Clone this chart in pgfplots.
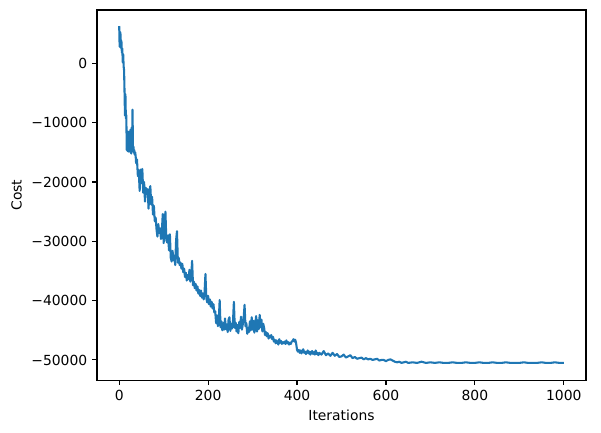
\documentclass[border=0pt]{standalone}
\usepackage{fontspec}
\setmainfont{DejaVu Sans}
\usepackage{pgfplots}
\pgfplotsset{compat=1.18}
\definecolor{mplblue}{HTML}{1F77B4}

\begin{document}
\begin{tikzpicture}
\begin{axis}[
    scale only axis,
    width=352pt, height=266.4pt,
    xmin=-50, xmax=1050,
    ymin=-53400, ymax=9000,
    scaled x ticks=false, scaled y ticks=false,
    axis line style={line width=0.8pt},
    tick align=outside,
    xtick pos=bottom, ytick pos=left,
    major tick length=3.5pt,
    tick style={line width=0.8pt, black},
    xtick={0,200,400,600,800,1000},
    xticklabels={0,200,400,600,800,1000},
    ytick={-50000,-40000,-30000,-20000,-10000,0},
    yticklabels={−50000,−40000,−30000,−20000,−10000,0},
    tick label style={font=\fontsize{10}{12}\selectfont},
    label style={font=\fontsize{10}{12}\selectfont},
    xlabel={Iterations},
    ylabel={Cost},
]
\addplot[color=mplblue, line width=1.5pt, line join=round] coordinates {
(0,6300) (1,2800) (2,5300) (3,4900) (4,2600) (5,3800) (6,1800) (7,2500)
(8,200) (9,1500) (10,-500) (11,-1200) (12,-4800) (13,-8800) (14,-5200)
(15,-9300) (16,-8700) (17,-14600) (18,-12000) (19,-14800) (20,-11500)
(21,-14300) (22,-14900) (23,-13200) (24,-14700) (25,-11200) (26,-14500)
(27,-15200) (28,-10800) (29,-14600) (30,-7800) (31,-14700) (32,-14000)
(33,-15100) (34,-14600) (35,-15400) (36,-15000) (37,-15600) (38,-16800)
(40,-16200) (42,-19000) (44,-18000) (46,-21500) (48,-17900) (50,-20200)
(52,-17800) (54,-21800) (56,-20000) (58,-23300) (60,-21000) (62,-22000)
(64,-21200) (66,-24500) (68,-21600) (70,-20700) (72,-23800) (74,-22500)
(76,-25500) (78,-24000) (80,-26600) (82,-26000) (84,-28000) (86,-29200)
(88,-27100) (90,-28600) (92,-27800) (94,-29600) (96,-28200) (98,-25400)
(100,-30300) (102,-27200) (104,-25000) (106,-29800) (108,-30200) (110,-29000)
(112,-31500) (114,-28800) (116,-32800) (118,-33400) (120,-31600) (122,-33200)
(124,-32400) (126,-34000) (128,-29800) (130,-28300) (132,-33600) (134,-32800)
(136,-34000) (138,-33600) (140,-34600) (142,-33800) (144,-35200) (146,-34600)
(148,-36000) (150,-35300) (152,-36600) (154,-35700) (156,-36400) (158,-34800)
(160,-36800) (162,-35900) (164,-33300) (166,-37400) (168,-36800) (170,-37900)
(172,-37200) (174,-38300) (176,-37600) (178,-38800) (180,-38200) (182,-39200)
(184,-38300) (186,-39500) (188,-38800) (190,-39800) (192,-38600) (194,-35500)
(196,-39600) (198,-40300) (200,-39200) (202,-40600) (204,-39800) (206,-41000)
(208,-40200) (210,-41300) (212,-40600) (214,-42000) (216,-41800) (218,-43800)
(220,-42500) (222,-44300) (224,-43300) (226,-39900) (228,-44500) (230,-43500)
(232,-45000) (234,-43800) (236,-44900) (238,-43000) (240,-44800) (242,-44000)
(244,-45300) (246,-43200) (248,-42800) (250,-45100) (252,-43900) (254,-44700)
(256,-43400) (258,-40200) (260,-44600) (262,-43700) (264,-45200) (266,-44100)
(268,-45500) (270,-43600) (272,-44600) (274,-42700) (276,-44900) (278,-44000)
(280,-42900) (282,-40700) (284,-44300) (286,-43800) (288,-45600) (290,-44600)
(292,-45300) (294,-43500) (296,-45000) (298,-42800) (300,-44900) (302,-43400)
(304,-45400) (306,-44000) (308,-42600) (310,-45200) (312,-43300) (314,-44800)
(316,-42400) (318,-44500) (320,-43200) (322,-45200) (324,-43900) (326,-44600)
(328,-45800) (330,-45300) (332,-46000) (334,-45500) (336,-46400) (338,-45900)
(340,-46200) (342,-45800) (344,-46500) (346,-46100) (348,-46900) (350,-46600)
(352,-47200) (354,-46700) (356,-47000) (358,-47400) (360,-46500) (362,-47100)
(364,-46800) (366,-47300) (368,-47000) (370,-47200) (372,-46900) (374,-47300)
(376,-46700) (378,-47200) (380,-47000) (382,-47400) (384,-47100) (386,-47300)
(388,-46900) (390,-46800) (392,-46500) (394,-46900) (396,-46600) (398,-47200)
(400,-48300) (402,-48600) (404,-48300) (406,-48800) (408,-48400) (410,-48900)
(412,-48500) (414,-48200) (416,-48800) (418,-48600) (420,-49000) (422,-48700)
(424,-48400) (426,-48900) (428,-48600) (430,-49100) (432,-48700) (434,-48500)
(436,-49000) (438,-48700) (440,-49100) (442,-48400) (444,-49000) (446,-48800)
(448,-49200) (450,-48800) (455,-49100) (460,-48500) (465,-49200) (470,-48900)
(475,-49300) (480,-48800) (485,-49300) (490,-49000) (495,-49500) (500,-49400)
(505,-49100) (510,-49600) (515,-49400) (520,-49200) (525,-49700) (530,-49500)
(535,-49800) (540,-49700) (545,-49600) (550,-49900) (555,-49700) (560,-49900)
(565,-49800) (570,-50000) (575,-49900) (580,-49800) (585,-50100) (590,-50000)
(595,-50000) (600,-50200) (605,-50000) (610,-49900) (615,-50100) (620,-50300)
(625,-50400) (630,-50300) (635,-50500) (640,-50400) (645,-50300) (650,-50500)
(660,-50400) (670,-50500) (680,-50300) (690,-50500) (700,-50400) (710,-50500)
(720,-50400) (730,-50500) (740,-50500) (750,-50400) (760,-50500) (770,-50500)
(780,-50400) (790,-50500) (800,-50500) (810,-50400) (820,-50500) (830,-50500)
(840,-50400) (850,-50500) (860,-50500) (870,-50400) (880,-50500) (890,-50500)
(900,-50500) (910,-50400) (920,-50500) (930,-50500) (940,-50500) (950,-50400)
(960,-50500) (970,-50500) (980,-50400) (990,-50500) (1000,-50500)
};
\end{axis}
\path (current axis.south west) ++(-69.8pt,-37.4pt) coordinate (bbsw);
\path (current axis.north east) ++(10.8pt,7.2pt) coordinate (bbne);
\path (bbsw) (bbne);
\end{tikzpicture}
\end{document}
